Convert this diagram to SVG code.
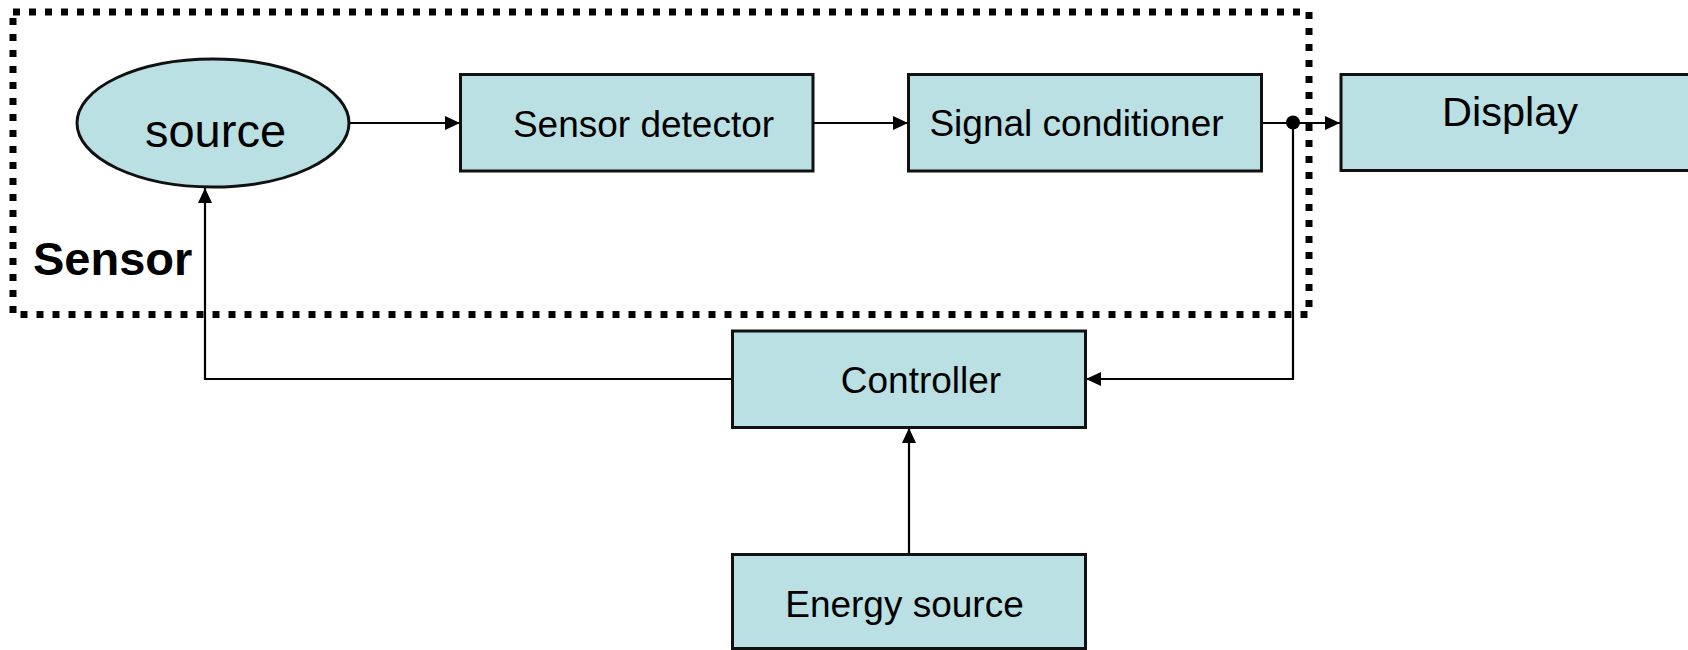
<svg xmlns="http://www.w3.org/2000/svg" width="1688" height="650" viewBox="0 0 1688 650">
  <style>
    .box { fill: #BAE0E3; stroke: #111; stroke-width: 3; }
    .lbl { font-family: "Liberation Sans", Arial, sans-serif; font-size: 37px; fill: #000; text-anchor: middle; }
    .big { font-size: 47px; }
    .mid { font-size: 41.5px; }
    .wire { fill: none; stroke: #000; stroke-width: 2.2; }
    .frame { fill: none; stroke: #000; stroke-width: 7; stroke-dasharray: 7 9; }
  </style>
  <defs>
    <marker id="arrow" markerWidth="16" markerHeight="14" refX="15" refY="7" orient="auto" markerUnits="userSpaceOnUse">
      <path d="M0,0 L15,7 L0,14 Z" fill="#000"/>
    </marker>
  </defs>
  <rect width="1688" height="650" fill="#fff"/>

  <!-- sensor boundary -->
  <g id="sensor-boundary">
    <rect class="frame" x="13" y="12" width="1296" height="302.5"/>
    <text x="33" y="275" font-family="Liberation Sans, Arial, sans-serif" font-size="47" font-weight="bold">Sensor</text>
  </g>

  <!-- connectors -->
  <g id="connectors">
    <line class="wire" x1="349" y1="123" x2="460" y2="123" marker-end="url(#arrow)"/>
    <line class="wire" x1="813" y1="123" x2="908" y2="123" marker-end="url(#arrow)"/>
    <line class="wire" x1="1262" y1="123" x2="1340" y2="123" marker-end="url(#arrow)"/>
    <polyline class="wire" points="1293,123 1293,379 1086,379" marker-end="url(#arrow)"/>
    <polyline class="wire" points="732,379 205,379 205,188" marker-end="url(#arrow)"/>
    <line class="wire" x1="909" y1="554" x2="909" y2="428" marker-end="url(#arrow)"/>
    <circle cx="1293" cy="122.5" r="7" fill="#000"/>
  </g>

  <g id="source">
    <ellipse class="box" cx="213" cy="123" rx="136" ry="64" stroke-width="2.5"/>
    <text class="lbl big" x="215.5" y="147">source</text>
  </g>

  <g id="sensor-detector">
    <rect class="box" x="460.5" y="74.5" width="352.5" height="96.5"/>
    <text class="lbl" x="643.5" y="136.5">Sensor detector</text>
  </g>

  <g id="signal-conditioner">
    <rect class="box" x="908.5" y="74.5" width="353" height="96.5"/>
    <text class="lbl" x="1076.5" y="135.5">Signal conditioner</text>
  </g>

  <g id="display">
    <rect class="box" x="1341" y="74.5" width="360" height="96"/>
    <text class="lbl mid" x="1510" y="126">Display</text>
  </g>

  <g id="controller">
    <rect class="box" x="732.5" y="331" width="353" height="96.5"/>
    <text class="lbl" x="921" y="392.5">Controller</text>
  </g>

  <g id="energy-source">
    <rect class="box" x="732.5" y="554.5" width="353" height="94"/>
    <text class="lbl" x="904.5" y="616.5">Energy source</text>
  </g>
</svg>
